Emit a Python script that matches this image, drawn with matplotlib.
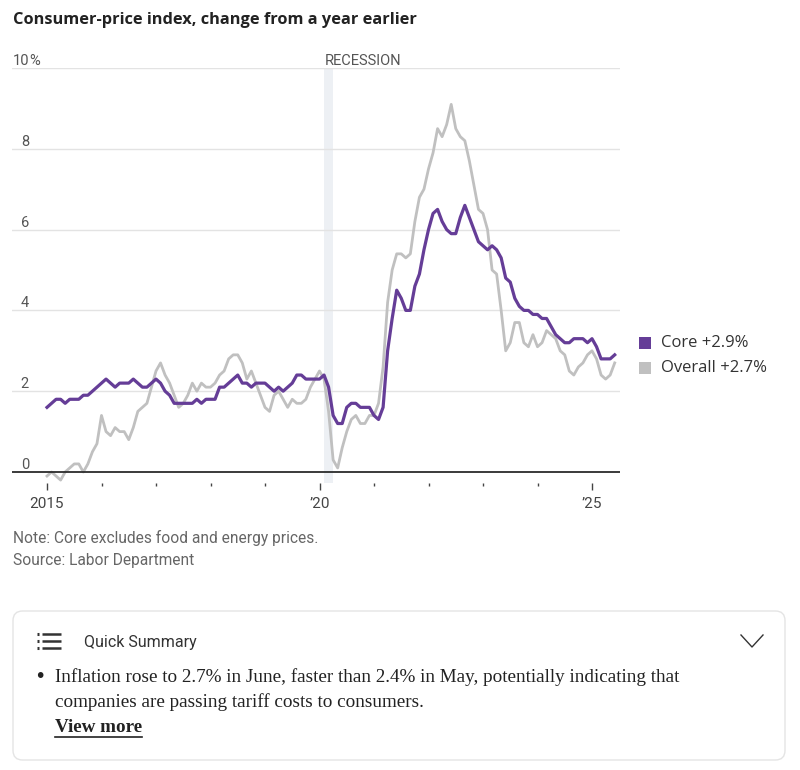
# CPI year-over-year chart, core vs overall, 2015 - mid 2025

import numpy as np
import matplotlib
matplotlib.use('Agg')
import matplotlib.pyplot as plt
from matplotlib.patches import Rectangle, FancyBboxPatch
from matplotlib.lines import Line2D
from matplotlib.transforms import blended_transform_factory

# monthly change from a year earlier, Jan 2015 - Jun 2025 (percent)
core = [
    1.6, 1.7, 1.8, 1.8, 1.7, 1.8, 1.8, 1.8, 1.9, 1.9, 2.0, 2.1,
    2.2, 2.3, 2.2, 2.1, 2.2, 2.2, 2.2, 2.3, 2.2, 2.1, 2.1, 2.2,
    2.3, 2.2, 2.0, 1.9, 1.7, 1.7, 1.7, 1.7, 1.7, 1.8, 1.7, 1.8,
    1.8, 1.8, 2.1, 2.1, 2.2, 2.3, 2.4, 2.2, 2.2, 2.1, 2.2, 2.2,
    2.2, 2.1, 2.0, 2.1, 2.0, 2.1, 2.2, 2.4, 2.4, 2.3, 2.3, 2.3,
    2.3, 2.4, 2.1, 1.4, 1.2, 1.2, 1.6, 1.7, 1.7, 1.6, 1.6, 1.6,
    1.4, 1.3, 1.6, 3.0, 3.8, 4.5, 4.3, 4.0, 4.0, 4.6, 4.9, 5.5,
    6.0, 6.4, 6.5, 6.2, 6.0, 5.9, 5.9, 6.3, 6.6, 6.3, 6.0, 5.7,
    5.6, 5.5, 5.6, 5.5, 5.3, 4.8, 4.7, 4.3, 4.1, 4.0, 4.0, 3.9,
    3.9, 3.8, 3.8, 3.6, 3.4, 3.3, 3.2, 3.2, 3.3, 3.3, 3.3, 3.2,
    3.3, 3.1, 2.8, 2.8, 2.8, 2.9,
]
overall = [
    -0.1, 0.0, -0.1, -0.2, 0.0, 0.1, 0.2, 0.2, 0.0, 0.2, 0.5, 0.7,
    1.4, 1.0, 0.9, 1.1, 1.0, 1.0, 0.8, 1.1, 1.5, 1.6, 1.7, 2.1,
    2.5, 2.7, 2.4, 2.2, 1.9, 1.6, 1.7, 1.9, 2.2, 2.0, 2.2, 2.1,
    2.1, 2.2, 2.4, 2.5, 2.8, 2.9, 2.9, 2.7, 2.3, 2.5, 2.2, 1.9,
    1.6, 1.5, 1.9, 2.0, 1.8, 1.6, 1.8, 1.7, 1.7, 1.8, 2.1, 2.3,
    2.5, 2.3, 1.5, 0.3, 0.1, 0.6, 1.0, 1.3, 1.4, 1.2, 1.2, 1.4,
    1.4, 1.7, 2.6, 4.2, 5.0, 5.4, 5.4, 5.3, 5.4, 6.2, 6.8, 7.0,
    7.5, 7.9, 8.5, 8.3, 8.6, 9.1, 8.5, 8.3, 8.2, 7.7, 7.1, 6.5,
    6.4, 6.0, 5.0, 4.9, 4.0, 3.0, 3.2, 3.7, 3.7, 3.2, 3.1, 3.4,
    3.1, 3.2, 3.5, 3.4, 3.3, 3.0, 2.9, 2.5, 2.4, 2.6, 2.7, 2.9,
    3.0, 2.8, 2.4, 2.3, 2.4, 2.7,
]
start_year = 2015
year_ticks = [2015, 2020, 2025]
year_labels = ['2015', '\u201920', '\u201925']
minor_years = [2016, 2017, 2018, 2019, 2021, 2022, 2023, 2024]
y_ticks = [0, 2, 4, 6, 8, 10]
y_labels = ['0', '2', '4', '6', '8', '10']
recession = (2020 + 1 / 12, 2020 + 3 / 12)
series_labels = ['Core +2.9%', 'Overall +2.7%']

PURPLE = '#653d97'
GREY = '#c0c0c0'
W, H = 800, 770
NARROW = ['Liberation Sans Narrow', 'Roboto', 'DejaVu Sans']
SERIF = ['Liberation Serif', 'DejaVu Serif']


def fx(px):
    return px / W


def fy(py):
    return 1 - py / H


months = start_year + np.arange(len(core)) / 12

fig = plt.figure(figsize=(W / 100, H / 100), dpi=100)
fig.patch.set_facecolor('white')

# plot area: x 12..620 px, y 68 (10%) .. 472 (0) px, ticks hang below at 483
ax_left, ax_right, ax_top, ax_bot = 12, 620, 68, 483
px_per_year, x2015 = 54.5, 47
px_per_unit = (472 - 68) / 10
ax = fig.add_axes([fx(ax_left), fy(ax_bot), (ax_right - ax_left) / W, (ax_bot - ax_top) / H])
ax.set_xlim(2015 - (x2015 - ax_left) / px_per_year, 2015 + (ax_right - x2015) / px_per_year)
ax.set_ylim(-(ax_bot - 472) / px_per_unit, 10)
for s in ax.spines.values():
    s.set_visible(False)

ax.axvspan(*recession, color='#edf0f4', lw=0, zorder=0)
for v in y_ticks[1:]:
    ax.axhline(v, color='#e3e3e3', lw=1, zorder=1)
ax.axhline(0, color='#2b2b2b', lw=1.3, zorder=4)

ax.plot(months, overall, color=GREY, lw=2.0, zorder=2, clip_on=False, solid_joinstyle='round')
ax.plot(months, core, color=PURPLE, lw=2.3, zorder=3, clip_on=False, solid_joinstyle='round')

# y labels sit above gridlines, numbers right-aligned at x=29 px
ytr = blended_transform_factory(fig.transFigure, ax.transData)
for v, lab in zip(y_ticks, y_labels):
    ax.text(fx(29), v + 3 / px_per_unit, lab, transform=ytr, ha='right', va='baseline',
            fontsize=10.5, color='#555555', family=NARROW)
ax.text(fx(29), 10 + 3 / px_per_unit, '%', transform=ytr, ha='left', va='baseline',
        fontsize=10.5, color='#555555', family=NARROW)
ax.set_yticks([])

ax.text(recession[0] + 0.01, 10 + 3 / px_per_unit, 'RECESSION', ha='left', va='baseline',
        fontsize=10.5, color='#555555', family=NARROW)

ax.set_xticks(year_ticks, year_labels)
ax.set_xticks(minor_years, minor=True)
ax.tick_params(axis='x', which='major', length=5, width=1, color='#444444', pad=5,
               labelsize=11, labelcolor='#444444')
ax.tick_params(axis='x', which='minor', length=2.5, width=1, color='#444444')
for t in ax.get_xticklabels():
    t.set_family(NARROW)

# title
fig.text(fx(13), fy(20), 'Consumer-price index, change from a year earlier', ha='left', va='center',
         fontsize=11.8, fontweight='bold', color='#222222', family=['Open Sans', 'DejaVu Sans'])

# legend
for py, col, lab in [(343, PURPLE, series_labels[0]), (367.5, GREY, series_labels[1])]:
    fig.patches.append(Rectangle((fx(639), fy(py + 6)), 12 / W, 12 / H, transform=fig.transFigure,
                                 color=col, lw=0))
    fig.text(fx(661), fy(py), lab, ha='left', va='center', fontsize=12, color='#333333',
             family=['Open Sans', 'DejaVu Sans'])

# notes
fig.text(fx(13), fy(538), 'Note: Core excludes food and energy prices.', ha='left', va='center',
         fontsize=11.2, color='#666666', family=NARROW)
fig.text(fx(13), fy(561), 'Source: Labor Department', ha='left', va='center',
         fontsize=11.2, color='#666666', family=NARROW)

# quick summary card
fig.patches.append(FancyBboxPatch((fx(13), fy(760)), (785 - 13) / W, (760 - 611) / H,
                                  boxstyle='round,pad=0,rounding_size=0.012', mutation_aspect=W / H,
                                  transform=fig.transFigure, fc='white', ec='#e4e4e4', lw=1))
for py in (634, 641, 648):
    fig.add_artist(Line2D([fx(37), fx(38.5)], [fy(py), fy(py)], color='#333333', lw=2.2,
                          solid_capstyle='butt'))
    fig.add_artist(Line2D([fx(42), fx(61)], [fy(py), fy(py)], color='#333333', lw=1.8,
                          solid_capstyle='butt'))
fig.add_artist(Line2D([fx(741), fx(752), fx(763)], [fy(635), fy(647), fy(635)], color='#333333', lw=1.0))
fig.text(fx(84), fy(642), 'Quick Summary', ha='left', va='center', fontsize=11.5, color='#333333',
         family=NARROW)

fig.text(fx(34), fy(677), '\u2022', ha='left', va='center', fontsize=14, color='#222222')
fig.text(fx(55), fy(677), 'Inflation rose to 2.7% in June, faster than 2.4% in May, potentially indicating that',
         ha='left', va='center', fontsize=13.8, color='#222222', family=SERIF)
fig.text(fx(55), fy(702), 'companies are passing tariff costs to consumers.',
         ha='left', va='center', fontsize=13.8, color='#222222', family=SERIF)
vm = fig.text(fx(55), fy(727), 'View more', ha='left', va='center', fontsize=13.8, fontweight='bold',
              color='#222222', family=SERIF)
fig.canvas.draw()
bb = vm.get_window_extent().transformed(fig.transFigure.inverted())
fig.add_artist(Line2D([bb.x0, bb.x1], [fy(737), fy(737)], color='#222222', lw=1.2))

fig.savefig('out.png', dpi=100)
